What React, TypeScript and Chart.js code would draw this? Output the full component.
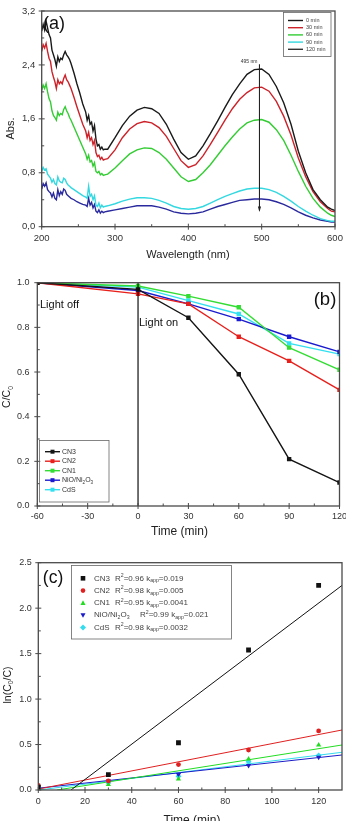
import React, { useEffect, useRef } from 'react';
import { Chart, registerables } from 'chart.js';
Chart.register(...registerables);

const FONT = "'Liberation Sans', Arial, Helvetica, sans-serif";
Chart.defaults.font.family = FONT;

// ---------------- Panel (a): UV-vis spectra ----------------
const WAVELENGTHS = [200,202,204,206,208,210,212,214,216,218,220,222,224,226,228,230,232,234,236,238,240,244,248,252,256,260,262,264,266,268,270,272,274,276,278,280,282,284,286,290,300,310,320,330,340,350,360,370,380,390,400,410,420,430,440,450,460,470,480,490,500,510,520,530,540,550,560,570,580,590,595,600];
const SPECTRUM_LABELS = ['0 min', '30 min', '60 min', '90 min', '120 min'];
const ABS_0MIN = [2.90,3.00,2.92,3.05,2.95,2.85,2.80,2.62,2.55,2.48,2.38,2.52,2.45,2.50,2.48,2.55,2.60,2.55,2.52,2.48,2.42,2.28,2.12,1.98,1.82,1.70,1.58,1.65,1.52,1.55,1.42,1.50,1.30,1.20,1.22,1.15,1.18,1.14,1.15,1.15,1.32,1.50,1.64,1.73,1.77,1.75,1.68,1.52,1.30,1.10,1.00,1.05,1.20,1.38,1.57,1.77,1.96,2.12,2.26,2.33,2.34,2.26,2.08,1.84,1.52,1.12,0.80,0.55,0.40,0.29,0.26,0.24];
const ABS_30MIN = [2.60,2.70,2.65,2.72,2.60,2.50,2.45,2.30,2.22,2.15,2.05,2.18,2.12,2.15,2.12,2.20,2.25,2.18,2.15,2.10,2.05,1.92,1.78,1.65,1.52,1.42,1.32,1.40,1.28,1.32,1.22,1.28,1.10,1.04,1.06,1.00,1.03,0.99,1.00,1.01,1.14,1.32,1.45,1.53,1.56,1.54,1.47,1.34,1.16,0.98,0.88,0.92,1.05,1.22,1.40,1.58,1.75,1.89,1.99,2.06,2.07,2.01,1.86,1.64,1.36,1.02,0.74,0.52,0.37,0.27,0.23,0.22];
const ABS_60MIN = [2.02,2.10,2.05,2.12,2.00,1.90,1.85,1.72,1.65,1.62,1.58,1.70,1.65,1.68,1.66,1.74,1.78,1.72,1.68,1.62,1.58,1.48,1.38,1.28,1.18,1.08,1.00,1.06,0.96,0.98,0.90,0.95,0.82,0.80,0.82,0.77,0.79,0.76,0.77,0.78,0.87,0.98,1.08,1.14,1.17,1.16,1.10,1.00,0.87,0.74,0.67,0.70,0.80,0.92,1.06,1.20,1.33,1.45,1.54,1.58,1.59,1.55,1.44,1.28,1.06,0.82,0.60,0.42,0.29,0.20,0.17,0.15];
const ABS_90MIN = [0.82,0.88,0.84,0.86,0.78,0.75,0.72,0.66,0.70,0.64,0.62,0.74,0.68,0.66,0.65,0.72,0.70,0.65,0.62,0.60,0.58,0.55,0.52,0.49,0.46,0.44,0.42,0.60,0.45,0.48,0.40,0.46,0.32,0.30,0.35,0.28,0.32,0.29,0.30,0.31,0.34,0.38,0.41,0.43,0.43,0.42,0.39,0.35,0.30,0.27,0.26,0.27,0.30,0.35,0.40,0.45,0.49,0.53,0.56,0.57,0.57,0.55,0.51,0.45,0.38,0.30,0.23,0.17,0.12,0.09,0.08,0.08];
const ABS_120MIN = [0.56,0.64,0.60,0.65,0.55,0.52,0.50,0.44,0.50,0.42,0.40,0.55,0.46,0.52,0.48,0.56,0.54,0.48,0.46,0.44,0.42,0.40,0.37,0.35,0.33,0.32,0.30,0.42,0.32,0.36,0.28,0.33,0.23,0.21,0.25,0.20,0.23,0.21,0.22,0.23,0.25,0.27,0.29,0.31,0.31,0.31,0.29,0.26,0.22,0.20,0.19,0.20,0.22,0.26,0.30,0.33,0.36,0.39,0.40,0.41,0.41,0.40,0.37,0.33,0.28,0.22,0.17,0.13,0.10,0.08,0.07,0.07];
const SPECTRA = [ABS_0MIN, ABS_30MIN, ABS_60MIN, ABS_90MIN, ABS_120MIN];
const SPECTRUM_COLORS = ['#1a1a1a', '#cc2229', '#33cc33', '#33d8e0', '#2a2a9e'];
const A_X_MAJOR = [200, 300, 400, 500, 600];
const A_X_MINOR = [250, 350, 450, 550];
const A_Y_MAJOR = [0, 0.8, 1.6, 2.4, 3.2];
const A_Y_MINOR = [0.4, 1.2, 2.0, 2.8];
const ARROW_WL = 497;
const ARROW_FROM = 2.41;
const ARROW_TO = 0.24;
const ARROW_LABEL = '495 nm';

// ---------------- Panel (b): C/C0 vs time ----------------
const TIMES_B = [-60, 0, 30, 60, 90, 120];
const SAMPLE_NAMES = ['CN3', 'CN2', 'CN1', 'NiO/Ni₂O₃', 'CdS'];
const CC0_CN3 = [1.0, 0.97, 0.843, 0.59, 0.21, 0.105];
const CC0_CN2 = [1.0, 0.95, 0.905, 0.758, 0.65, 0.52];
const CC0_CN1 = [1.0, 0.985, 0.94, 0.89, 0.709, 0.61];
const CC0_NIO = [1.0, 0.965, 0.905, 0.837, 0.758, 0.69];
const CC0_CDS = [1.0, 0.98, 0.92, 0.86, 0.728, 0.68];
const CC0_SERIES = [CC0_CN3, CC0_CN2, CC0_CN1, CC0_NIO, CC0_CDS];
const B_COLORS = ['#151515', '#e8201c', '#33dd33', '#1a1ad0', '#33e0f0'];
const LIGHT_ON_TIME = 0;
const B_X_MAJOR = [-60, -30, 0, 30, 60, 90, 120];
const B_X_MINOR = [-45, -15, 15, 45, 75, 105];
const B_Y_MAJOR = [0, 0.2, 0.4, 0.6, 0.8, 1.0];
const B_Y_MINOR = [0.1, 0.3, 0.5, 0.7, 0.9];

// ---------------- Panel (c): ln(C0/C) kinetics ----------------
const TIMES_C = [0, 30, 60, 90, 120];
const LN_CN3 = [0.03, 0.17, 0.52, 1.54, 2.25];
const LN_CN2 = [0.05, 0.10, 0.28, 0.44, 0.65];
const LN_CN1 = [0.015, 0.06, 0.12, 0.34, 0.495];
const LN_NIO = [0.03, 0.10, 0.17, 0.27, 0.36];
const LN_CDS = [0.02, 0.08, 0.15, 0.31, 0.38];
const LN_SERIES = [LN_CN3, LN_CN2, LN_CN1, LN_NIO, LN_CDS];
const FIT_X = [[14, 130], [0, 130], [8, 130], [0, 130], [0, 130]];
const FIT_Y = [[0, 2.25], [0.01, 0.66], [0, 0.495], [0.02, 0.385], [0.0, 0.415]];
const R2_VALUES = ['0.96', '0.98', '0.95', '0.99', '0.98'];
const KAPP_VALUES = ['0.019', '0.005', '0.0041', '0.021', '0.0032'];
const C_MARKERS = ['rect', 'circle', 'triangle', 'triangleDown', 'rectRot'];
const C_COLORS = ['#111111', '#e02020', '#22dd22', '#1c1cc8', '#33dcee'];
const C_X_MAJOR = [0, 20, 40, 60, 80, 100, 120];
const C_X_MINOR = [10, 30, 50, 70, 90, 110, 130];
const C_Y_MAJOR = [0, 0.5, 1.0, 1.5, 2.0, 2.5];
const C_Y_MINOR = [0.25, 0.75, 1.25, 1.75, 2.25];

// ---------------- helpers ----------------
type Seg = [string, number];
function drawRich(ctx: CanvasRenderingContext2D, segs: Seg[], x: number, y: number, size: number, align: 'left' | 'center' = 'left') {
  const widths = segs.map(([t, k]) => {
    ctx.font = `${k ? size * 0.65 : size}px ${FONT}`;
    return ctx.measureText(t).width;
  });
  const total = widths.reduce((a, b) => a + b, 0);
  let cx = align === 'center' ? x - total / 2 : x;
  ctx.textAlign = 'left';
  ctx.textBaseline = 'middle';
  segs.forEach(([t, k], i) => {
    ctx.font = `${k ? size * 0.65 : size}px ${FONT}`;
    const dy = k === -1 ? size * 0.32 : k === 1 ? -size * 0.35 : 0;
    ctx.fillText(t, cx, y + dy);
    cx += widths[i];
  });
}

function drawFrame(chart: any, xMaj: number[], xMin: number[], yMaj: number[], yMin: number[]) {
  const { ctx, chartArea: a, scales } = chart;
  const x = scales.x, y = scales.y;
  ctx.save();
  ctx.strokeStyle = '#4a4a4a';
  ctx.lineWidth = 1.3;
  ctx.strokeRect(a.left, a.top, a.right - a.left, a.bottom - a.top);
  ctx.lineWidth = 1;
  ctx.beginPath();
  xMaj.forEach(v => { const p = x.getPixelForValue(v); ctx.moveTo(p, a.bottom - 3); ctx.lineTo(p, a.bottom + 3); });
  xMin.forEach(v => { const p = x.getPixelForValue(v); if (p < a.right - 1) { ctx.moveTo(p, a.bottom); ctx.lineTo(p, a.bottom - 2.5); } });
  yMaj.forEach(v => { const p = y.getPixelForValue(v); ctx.moveTo(a.left - 3, p); ctx.lineTo(a.left + 3, p); });
  yMin.forEach(v => { const p = y.getPixelForValue(v); ctx.moveTo(a.left, p); ctx.lineTo(a.left + 2.5, p); });
  ctx.stroke();
  ctx.restore();
}

function drawMarker(ctx: CanvasRenderingContext2D, style: string, x: number, y: number, r: number, color: string) {
  ctx.save();
  ctx.fillStyle = color;
  ctx.strokeStyle = color;
  ctx.beginPath();
  if (style === 'rect') {
    ctx.rect(x - r, y - r, 2 * r, 2 * r);
  } else if (style === 'circle') {
    ctx.arc(x, y, r, 0, Math.PI * 2);
  } else if (style === 'triangle') {
    ctx.moveTo(x, y - r * 1.1); ctx.lineTo(x + r * 1.1, y + r * 0.9); ctx.lineTo(x - r * 1.1, y + r * 0.9); ctx.closePath();
  } else if (style === 'triangleDown') {
    ctx.moveTo(x, y + r * 1.1); ctx.lineTo(x + r * 1.1, y - r * 0.9); ctx.lineTo(x - r * 1.1, y - r * 0.9); ctx.closePath();
  } else {
    ctx.moveTo(x, y - r * 1.3); ctx.lineTo(x + r * 1.3, y); ctx.lineTo(x, y + r * 1.3); ctx.lineTo(x - r * 1.3, y); ctx.closePath();
  }
  ctx.fill();
  ctx.restore();
}

function axisOpts(min: number, max: number, major: number[], fit: (s: any) => void, padding: number, size: number, fmt: (v: number) => string) {
  return {
    type: 'linear' as const,
    min, max,
    afterBuildTicks: (s: any) => { s.ticks = major.map(v => ({ value: v })); },
    afterFit: fit,
    grid: { display: false, drawTicks: false },
    border: { display: false },
    ticks: { padding, color: '#333', font: { size, family: FONT }, callback: (v: any) => fmt(Number(v)), autoSkip: false, maxRotation: 0 },
  };
}

// ---------------- configs ----------------
function buildA(): any {
  const plugin = {
    id: 'panelA',
    afterDraw(chart: any) {
      const { ctx, scales: { x, y } } = chart;
      drawFrame(chart, A_X_MAJOR, A_X_MINOR, A_Y_MAJOR, A_Y_MINOR);
      ctx.save();
      // arrow
      const ax = x.getPixelForValue(ARROW_WL);
      const y1 = y.getPixelForValue(ARROW_FROM);
      const y2 = y.getPixelForValue(ARROW_TO);
      ctx.strokeStyle = '#222';
      ctx.fillStyle = '#222';
      ctx.lineWidth = 1.1;
      ctx.beginPath(); ctx.moveTo(ax, y1); ctx.lineTo(ax, y2); ctx.stroke();
      ctx.beginPath(); ctx.moveTo(ax, y2 + 1.5); ctx.lineTo(ax - 1.6, y2 - 4); ctx.lineTo(ax + 1.6, y2 - 4); ctx.closePath(); ctx.fill();
      ctx.font = `5px ${FONT}`; ctx.textAlign = 'right'; ctx.textBaseline = 'middle';
      ctx.fillStyle = '#333';
      ctx.fillText(ARROW_LABEL, ax - 2, y1 - 2.5);
      // legend
      ctx.strokeStyle = '#666'; ctx.lineWidth = 0.8;
      ctx.strokeRect(283.5, 12.5, 47.5, 44);
      SPECTRUM_LABELS.forEach((lab, i) => {
        const ry = 20.5 + i * 7.2;
        ctx.strokeStyle = SPECTRUM_COLORS[i === 4 ? 0 : i]; ctx.lineWidth = 1.4;
        if (i === 4) ctx.strokeStyle = '#333';
        ctx.beginPath(); ctx.moveTo(288, ry); ctx.lineTo(303, ry); ctx.stroke();
        ctx.fillStyle = '#444'; ctx.font = `5.5px ${FONT}`; ctx.textAlign = 'left';
        ctx.fillText(lab, 306, ry);
      });
      // panel label
      ctx.fillStyle = '#111'; ctx.font = `18px ${FONT}`; ctx.textAlign = 'center';
      ctx.fillText('(a)', 54, 24);
      // axis titles
      ctx.fillStyle = '#222';
      drawRich(ctx, [['Wavelength (nm)', 0]], 188, 255, 11, 'center');
      ctx.save(); ctx.translate(11, 128.5); ctx.rotate(-Math.PI / 2);
      drawRich(ctx, [['Abs.', 0]], 0, 0, 11, 'center');
      ctx.restore();
      ctx.restore();
    },
  };
  return {
    type: 'line',
    data: {
      datasets: SPECTRA.map((vals, i) => ({
        label: SPECTRUM_LABELS[i],
        data: WAVELENGTHS.map((w, j) => ({ x: w, y: vals[j] })),
        borderColor: SPECTRUM_COLORS[i],
        borderWidth: 1.4,
        pointRadius: 0,
        tension: 0,
        fill: false,
      })),
    },
    options: {
      animation: false, responsive: false,
      layout: { padding: { top: 11, right: 11, left: 0, bottom: 0 } },
      plugins: { legend: { display: false }, tooltip: { enabled: false } },
      scales: {
        x: axisOpts(200, 600, A_X_MAJOR, (s: any) => { s.height = 39.3; s.paddingLeft = 0; s.paddingRight = 0; }, 6.2, 9.5, v => String(v)),
        y: axisOpts(0, 3.2, A_Y_MAJOR, (s: any) => { s.width = 41.7; s.paddingTop = 0; s.paddingBottom = 0; }, 6.5, 9.5, v => v.toFixed(1).replace('.', ',')),
      },
    },
    plugins: [plugin],
  };
}

function buildB(): any {
  const plugin = {
    id: 'panelB',
    afterDraw(chart: any) {
      const { ctx, chartArea: a, scales: { x } } = chart;
      ctx.save();
      const lx = x.getPixelForValue(LIGHT_ON_TIME);
      ctx.strokeStyle = '#111'; ctx.lineWidth = 1.2;
      ctx.beginPath(); ctx.moveTo(lx, a.top); ctx.lineTo(lx, a.bottom); ctx.stroke();
      ctx.restore();
      drawFrame(chart, B_X_MAJOR, B_X_MINOR, B_Y_MAJOR, B_Y_MINOR);
      ctx.save();
      ctx.fillStyle = '#111';
      drawRich(ctx, [['Light off', 0]], 40, 38.5, 11, 'left');
      drawRich(ctx, [['Light on', 0]], 139, 57, 11, 'left');
      drawRich(ctx, [['(b)', 0]], 325, 34, 18.5, 'center');
      // legend
      ctx.strokeStyle = '#666'; ctx.lineWidth = 0.8;
      ctx.strokeRect(39.5, 174.5, 69.5, 61.5);
      SAMPLE_NAMES.forEach((name, i) => {
        const ry = 185.7 + i * 9.5;
        ctx.strokeStyle = B_COLORS[i]; ctx.lineWidth = 1.4;
        ctx.beginPath(); ctx.moveTo(45, ry); ctx.lineTo(60, ry); ctx.stroke();
        drawMarker(ctx, 'rect', 52.5, ry, 2, B_COLORS[i]);
        ctx.fillStyle = '#333';
        const segs: Seg[] = i === 3 ? [['NiO/Ni', 0], ['2', -1], ['O', 0], ['3', -1]] : [[name, 0]];
        drawRich(ctx, segs, 62, ry, 7, 'left');
      });
      ctx.fillStyle = '#222';
      drawRich(ctx, [['Time (min)', 0]], 179.5, 266, 12, 'center');
      ctx.save(); ctx.translate(7.5, 131); ctx.rotate(-Math.PI / 2);
      drawRich(ctx, [['C/C', 0], ['0', -1]], 0, 0, 10.5, 'center');
      ctx.restore();
      ctx.restore();
    },
  };
  return {
    type: 'line',
    data: {
      datasets: CC0_SERIES.map((vals, i) => ({
        label: SAMPLE_NAMES[i],
        data: TIMES_B.map((t, j) => ({ x: t, y: vals[j] })),
        borderColor: B_COLORS[i],
        backgroundColor: B_COLORS[i],
        borderWidth: 1.4,
        pointStyle: 'rect',
        pointRadius: 3.1,
        pointBorderWidth: 0,
        tension: 0,
        fill: false,
      })),
    },
    options: {
      animation: false, responsive: false,
      layout: { padding: { top: 16.7, right: 6.5, left: 0, bottom: 0 } },
      plugins: { legend: { display: false }, tooltip: { enabled: false } },
      scales: {
        x: axisOpts(-60, 120, B_X_MAJOR, (s: any) => { s.height = 34; s.paddingLeft = 0; s.paddingRight = 0; }, 5.3, 9, v => String(v)),
        y: axisOpts(0, 1.0, B_Y_MAJOR, (s: any) => { s.width = 37.3; s.paddingTop = 0; s.paddingBottom = 0; }, 7.8, 9, v => v.toFixed(1)),
      },
    },
    plugins: [plugin],
  };
}

function buildC(): any {
  const plugin = {
    id: 'panelC',
    afterDraw(chart: any) {
      const { ctx } = chart;
      drawFrame(chart, C_X_MAJOR, C_X_MINOR, C_Y_MAJOR, C_Y_MINOR);
      ctx.save();
      ctx.fillStyle = '#111';
      drawRich(ctx, [['(c)', 0]], 53, 38, 17.5, 'center');
      // legend
      ctx.strokeStyle = '#666'; ctx.lineWidth = 0.8;
      ctx.strokeRect(71.5, 25.5, 160, 73.5);
      SAMPLE_NAMES.forEach((name, i) => {
        const ry = 38.3 + i * 12.3;
        drawMarker(ctx, C_MARKERS[i], 83, ry, 2.3, C_COLORS[i]);
        ctx.fillStyle = '#444';
        const nameSegs: Seg[] = i === 3 ? [['NiO/Ni', 0], ['2', -1], ['O', 0], ['3', -1]] : [[name, 0]];
        drawRich(ctx, nameSegs, 94, ry, 8, 'left');
        drawRich(ctx, [['R', 0], ['2', 1], ['=' + R2_VALUES[i] + ' k', 0], ['app', -1], ['=' + KAPP_VALUES[i], 0]], i === 3 ? 140 : 115, ry, 8, 'left');
      });
      ctx.fillStyle = '#222';
      drawRich(ctx, [['Time (min)', 0]], 192, 281, 12, 'center');
      ctx.save(); ctx.translate(8, 145); ctx.rotate(-Math.PI / 2);
      drawRich(ctx, [['ln(C', 0], ['0', -1], ['/C)', 0]], 0, 0, 10.5, 'center');
      ctx.restore();
      ctx.restore();
    },
  };
  const fits = FIT_X.map((xs, i) => ({
    label: SAMPLE_NAMES[i] + ' fit',
    data: xs.map((xv, j) => ({ x: xv, y: FIT_Y[i][j] })),
    showLine: true,
    borderColor: C_COLORS[i],
    borderWidth: 1,
    pointRadius: 0,
    order: 2,
  }));
  const points = LN_SERIES.map((vals, i) => ({
    label: SAMPLE_NAMES[i],
    data: TIMES_C.map((t, j) => ({ x: t, y: vals[j] })),
    showLine: false,
    backgroundColor: C_COLORS[i],
    borderColor: C_COLORS[i],
    pointStyle: C_MARKERS[i] === 'triangleDown' ? 'triangle' : C_MARKERS[i],
    rotation: C_MARKERS[i] === 'triangleDown' ? 180 : 0,
    pointRadius: C_MARKERS[i] === 'rect' ? 3.4 : C_MARKERS[i] === 'circle' ? 2.4 : 3,
    pointBorderWidth: 0,
    order: 1,
  }));
  return {
    type: 'scatter',
    data: { datasets: [...fits, ...points] },
    options: {
      animation: false, responsive: false,
      layout: { padding: { top: 22.7, right: 1, left: 0, bottom: 0 } },
      plugins: { legend: { display: false }, tooltip: { enabled: false } },
      scales: {
        x: axisOpts(0, 130, C_X_MAJOR, (s: any) => { s.height = 40; s.paddingLeft = 0; s.paddingRight = 0; }, 6.3, 9, v => String(v)),
        y: axisOpts(0, 2.5, C_Y_MAJOR, (s: any) => { s.width = 38.3; s.paddingTop = 0; s.paddingBottom = 0; }, 6.6, 9, v => v.toFixed(1)),
      },
    },
    plugins: [plugin],
  };
}

function ChartCanvas({ top, height, build }: { top: number; height: number; build: () => any }) {
  const ref = useRef<HTMLCanvasElement>(null);
  useEffect(() => {
    const chart = new Chart(ref.current as HTMLCanvasElement, build());
    return () => chart.destroy();
  }, []);
  return (
    <canvas
      ref={ref}
      width={346}
      height={height}
      style={{ position: 'absolute', left: 0, top, width: 346, height, display: 'block' }}
    />
  );
}

export default function App() {
  return (
    <div style={{ position: 'absolute', left: 0, top: 0, width: 346, height: 821, overflow: 'hidden', background: '#fff' }}>
      <ChartCanvas top={0} height={266} build={buildA} />
      <ChartCanvas top={266} height={274} build={buildB} />
      <ChartCanvas top={540} height={290} build={buildC} />
    </div>
  );
}
